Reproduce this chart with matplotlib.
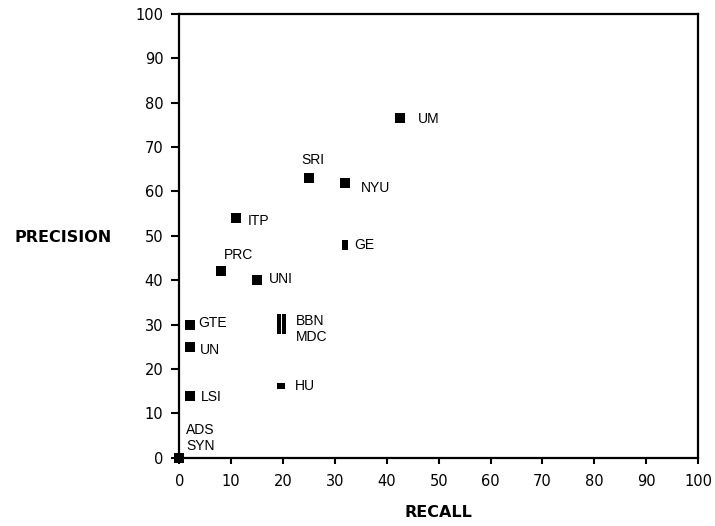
import matplotlib
matplotlib.use("Agg")
import matplotlib.pyplot as plt

# ---- data ----
labels = ['UM', 'SRI', 'NYU', 'ITP', 'GE', 'PRC', 'UNI', 'GTE', 'UN', 'LSI',
          'BBN', 'MDC', 'HU', 'ADS', 'SYN']
recall = [42.5, 25, 32, 11, 32, 8, 15, 2, 2, 2, 19.2, 20.1, 19.6, 0, 0]
precision = [76.5, 63, 62, 54, 48, 42, 40, 30, 25, 14, 30.2, 30.2, 16.2, 0, 0]
ticks = list(range(0, 101, 10))

# ---- layout / style (pixels offsets for labels) ----
offsets = {
    'UM': (18, -1, 'left'), 'SRI': (4, 18, 'center'), 'NYU': (16, -5, 'left'),
    'ITP': (11, -3, 'left'), 'GE': (9, 0, 'left'), 'PRC': (18, 16, 'center'),
    'UNI': (12, 1, 'left'), 'GTE': (9, 2, 'left'), 'UN': (10, -3, 'left'),
    'LSI': (11, -1, 'left'), 'BBN': (17, 3, 'left'), 'MDC': (12, -13, 'left'),
    'HU': (14, 0, 'left'), 'ADS': (7, 28, 'left'), 'SYN': (7, 12, 'left'),
}
bar = [(-0.16, -1), (0.16, -1), (0.16, 1), (-0.16, 1), (-0.16, -1)]
narrow = [(-0.6, -1), (0.6, -1), (0.6, 1), (-0.6, 1), (-0.6, -1)]
wide = [(-1, -0.8), (1, -0.8), (1, 0.8), (-1, 0.8), (-1, -0.8)]
marker_style = {
    'BBN': (bar, 13.7), 'MDC': (bar, 13.7), 'GE': (narrow, 7.2),
    'HU': (wide, 5.8),
}
default_marker = ('s', 7.3)

W, H, DPI = 715, 526, 100
fig = plt.figure(figsize=(W / DPI, H / DPI), dpi=DPI)
ax = fig.add_axes([179.3 / W, 1 - 457.7 / H, (698 - 179.3) / W, (457.7 - 14) / H])

ax.set_xlim(0, 100)
ax.set_ylim(0, 100)
ax.set_xticks(ticks)
ax.set_yticks(ticks)
ax.set_xticklabels([str(t) for t in ticks])
ax.set_yticklabels([str(t) for t in ticks])
for s in ax.spines.values():
    s.set_linewidth(1.6)
ax.tick_params(axis='x', direction='out', length=4.5, width=1.5, pad=7,
               labelsize=10.5)
ax.tick_params(axis='y', direction='out', length=5.5, width=1.5, pad=6,
               labelsize=10.5)
for lab in ax.get_xticklabels() + ax.get_yticklabels():
    lab.set_fontfamily(['DejaVu Sans'])

label_font = ['Liberation Sans', 'DejaVu Sans']

for name, x, y in zip(labels, recall, precision):
    m, ms = marker_style.get(name, default_marker)
    ax.plot([x], [y], linestyle='none', marker=m, markersize=ms,
            color='black', markeredgewidth=0, clip_on=False, zorder=5)
    dx, dy, ha = offsets[name]
    ax.annotate(name, (x, y), xytext=(dx, dy), textcoords='offset pixels',
                ha=ha, va='center', fontsize=10, family=label_font,
                color='black')

fig.text(63 / W, 1 - 237 / H, 'PRECISION', ha='center', va='center',
         fontsize=11.5, fontweight='bold', family=['DejaVu Sans'])
fig.text(438.5 / W, 1 - 512.7 / H, 'RECALL', ha='center', va='center',
         fontsize=11.5, fontweight='bold', family=['DejaVu Sans'])

fig.savefig('out.png', dpi=DPI)
